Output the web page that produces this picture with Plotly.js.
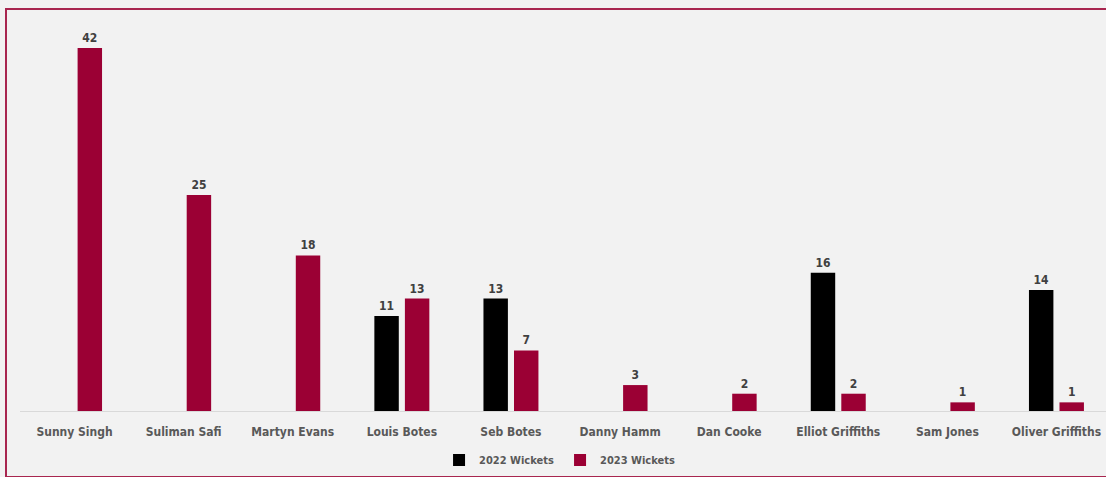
<!DOCTYPE html>
<html>
<head>
<meta charset="utf-8">
<script src="https://cdn.plot.ly/plotly-3.0.1.min.js"></script>
<style>
  html, body { margin: 0; padding: 0; background: #f2f2f2; overflow: hidden; width: 1106px; height: 477px; }
  #frame { position: absolute; left: 5px; top: 8px; width: 1120px; height: 466px; border: 2px solid #a8264f; background: #f2f2f2; }
  #chart { width: 1120px; height: 466px; }
</style>
</head>
<body>
<div id="frame"><div id="chart"></div></div>
<script>
const players = ["Sunny Singh", "Suliman Safi", "Martyn Evans", "Louis Botes", "Seb Botes", "Danny Hamm", "Dan Cooke", "Elliot Griffiths", "Sam Jones", "Oliver Griffiths"];
const wickets2022 = [null, null, null, 11, 13, null, null, 16, null, 14];
const wickets2023 = [42, 25, 18, 13, 7, 3, 2, 2, 1, 1];

const fam = "'Liberation Sans Narrow', 'Arial Narrow', 'DejaVu Sans Condensed', sans-serif";
const labelFont = { family: fam, size: 12, color: "#404040", weight: 700 };

const traces = [
  {
    type: "bar", name: "2022 Wickets", x: players, y: wickets2022,
    marker: { color: "#000000" },
    text: wickets2022.map(v => v == null ? "" : String(v)),
    textposition: "outside", textfont: labelFont, cliponaxis: false
  },
  {
    type: "bar", name: "2023 Wickets", x: players, y: wickets2023,
    marker: { color: "#9b0034" },
    text: wickets2023.map(String),
    textposition: "outside", textfont: labelFont, cliponaxis: false
  }
];

const layout = {
  width: 1120, height: 466,
  margin: { l: 13, r: 16, t: 12, b: 65, autoexpand: false },
  paper_bgcolor: "#f2f2f2", plot_bgcolor: "#f2f2f2",
  barmode: "group", bargap: 0.44, bargroupgap: 0.2,
  showlegend: true,
  legend: { orientation: "h", x: 0.495, xanchor: "center", y: -0.126, yanchor: "middle",
            font: { family: fam, size: 11, color: "#595959", weight: 700 },
            itemwidth: 30, entrywidth: 76, traceorder: "normal" },
  xaxis: { type: "category", showgrid: false, zeroline: false, showline: true, linecolor: "#d9d9d9", linewidth: 1,
           automargin: false, ticks: "outside", ticklen: 10, tickcolor: "rgba(0,0,0,0)",
           tickfont: { family: fam, size: 12, color: "#595959", weight: 700 } },
  yaxis: { range: [0, 45], visible: false, showgrid: false, zeroline: false, automargin: false },
  font: { family: fam }
};

Plotly.newPlot("chart", traces, layout, { staticPlot: true, displayModeBar: false });
</script>
</body>
</html>
